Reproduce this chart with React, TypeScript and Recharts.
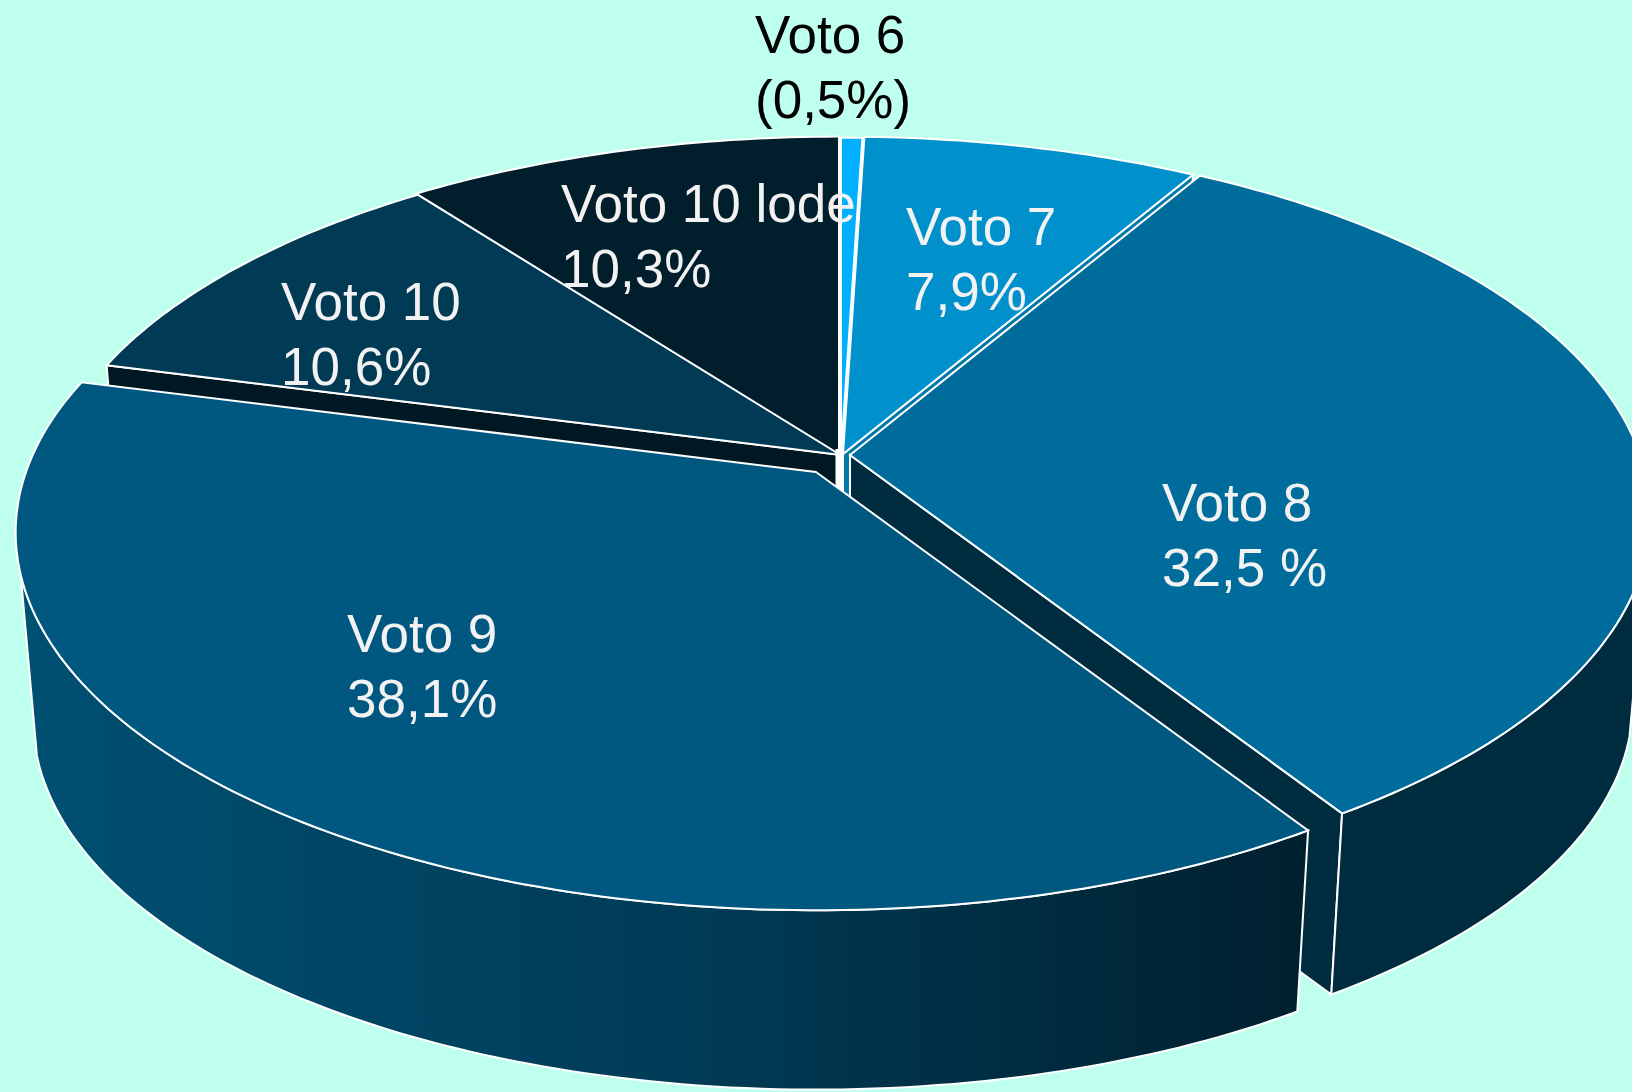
import React from 'react';
import { PieChart, Pie } from 'recharts';

// slices in drawing order (back to front), clockwise around the pie
const categories = ['Voto 10', 'Voto 10 lode', 'Voto 6', 'Voto 7', 'Voto 8', 'Voto 9'];
const values = [10.6, 10.3, 0.5, 7.9, 32.5, 38.1];
const percentLabels = ['10,6%', '10,3%', '(0,5%)', '7,9%', '32,5 %', '38,1%'];

const colors = ['#003A55', '#001E2C', '#00B0FF', '#0090CC', '#006C9C', '#005880'];
const textColors = ['#F2F2F2', '#F2F2F2', '#000000', '#F2F2F2', '#F2F2F2', '#F2F2F2'];
const labelX = [281, 561, 755, 906, 1162, 347];
const labelY = [320, 222, 53, 245, 521, 652];
const offsetX = [-7, -9, -7, -5, 2, -32];
const offsetY = [0, -1, 0, -1, 0, 17];

const BG = '#BFFFEE';
const WIDTH = 1632;
const HEIGHT = 1092;
const CX = 848;
const CY = 455;
const RADIUS = 790;
const SQUASH = 0.466;
const PERSP = 0.16;
const FLOOR_SCALE = 0.978;
const DROP = 189;

const rows = categories.map((name, i) => ({ name, value: values[i] }));
const total = values.reduce((a, b) => a + b, 0);
// the pie's 12 o'clock sits between Voto 10 lode and Voto 6
const startAngle = 90 + ((values[0] + values[1]) / total) * 360;

const rad = (deg: number) => (deg * Math.PI) / 180;

function project(deg: number, cx: number, cy: number, r: number, floor = false) {
  const u = Math.cos(rad(deg));
  const v = Math.sin(rad(deg));
  const w = 1 + PERSP * v;
  const x = (r * u) / w;
  const y = (-r * SQUASH * v) / w;
  if (floor) return [cx + x * FLOOR_SCALE, cy + y * FLOOR_SCALE + DROP];
  return [cx + x, cy + y];
}

function anglesBetween(from: number, to: number) {
  const out: number[] = [];
  for (let a = from; a > to; a -= 1) out.push(a);
  out.push(to);
  return out;
}

const toPath = (pts: number[][]) =>
  'M' + pts.map((p) => `${p[0].toFixed(1)},${p[1].toFixed(1)}`).join('L') + 'Z';

const SliceShape = (props: any) => {
  const { startAngle: a0, endAngle: a1, cx, cy, outerRadius: r, name } = props;
  const i = categories.indexOf(name);
  const x = cx + offsetX[i];
  const y = cy + offsetY[i];
  const arc = anglesBetween(a0, a1);
  const top = arc.map((a) => project(a, x, y, r));
  const frontTop = arc.filter((a) => Math.sin(rad(a)) < -0.13);
  const frontFloor = arc.filter((a) => Math.sin(rad(a)) < -0.24);
  const wallFill = name === 'Voto 9' ? 'url(#wall9)' : '#002C40';
  const band = (a: number) => [
    [x, y],
    project(a, x, y, r),
    project(a, x, y, r, true),
    [x, y + DROP],
  ];
  return (
    <g>
      {name === 'Voto 6' && (
        <path d={`M${x},${y - 6}L${x},${y + 60}`} stroke="#FFFFFF" strokeWidth={11} />
      )}
      {name === 'Voto 10' && (
        <path d={toPath(band(a0))} fill="#001824" stroke="#FFFFFF" strokeWidth={2} />
      )}
      {name === 'Voto 7' && (
        <path d={toPath(band(a1))} fill="#0078A8" stroke="#FFFFFF" strokeWidth={2} />
      )}
      {name === 'Voto 8' && (
        <path d={toPath(band(a1))} fill="#002C40" stroke="#FFFFFF" strokeWidth={2} />
      )}
      {frontTop.length > 1 && (
        <path
          d={toPath([
            ...frontTop.map((a) => project(a, x, y, r)),
            ...frontFloor.slice().reverse().map((a) => project(a, x, y, r, true)),
          ])}
          fill={wallFill}
          stroke="#FFFFFF"
          strokeWidth={2}
        />
      )}
      <path d={toPath([[x, y], ...top])} fill={colors[i]} stroke="#FFFFFF" strokeWidth={2} />
    </g>
  );
};

const SliceLabel = (props: any) => {
  const i = categories.indexOf(props.name);
  return (
    <text
      x={labelX[i]}
      y={labelY[i]}
      fill={textColors[i]}
      fontFamily="'Liberation Sans', Arial, sans-serif"
      fontSize={53}
      textAnchor="start"
    >
      <tspan x={labelX[i]}>{categories[i]}</tspan>
      <tspan x={labelX[i]} dy={65}>{percentLabels[i]}</tspan>
    </text>
  );
};

export default function App() {
  return (
    <div style={{ position: 'absolute', left: 0, top: 0, width: WIDTH, height: HEIGHT, background: BG, overflow: 'hidden' }}>
      <PieChart width={WIDTH} height={HEIGHT} margin={{ top: 0, right: 0, bottom: 0, left: 0 }}>
        <defs>
          <linearGradient id="wall9" gradientUnits="userSpaceOnUse" x1="30" y1="0" x2="1300" y2="0">
            <stop offset="0%" stopColor="#005072" />
            <stop offset="50%" stopColor="#003C58" />
            <stop offset="100%" stopColor="#00202F" />
          </linearGradient>
        </defs>
        <Pie
          data={rows}
          dataKey="value"
          nameKey="name"
          cx={CX}
          cy={CY}
          innerRadius={0}
          outerRadius={RADIUS}
          startAngle={startAngle}
          endAngle={startAngle - 360}
          shape={SliceShape}
          inactiveShape={SliceShape}
          label={SliceLabel}
          labelLine={false}
          isAnimationActive={false}
        />
      </PieChart>
    </div>
  );
}
